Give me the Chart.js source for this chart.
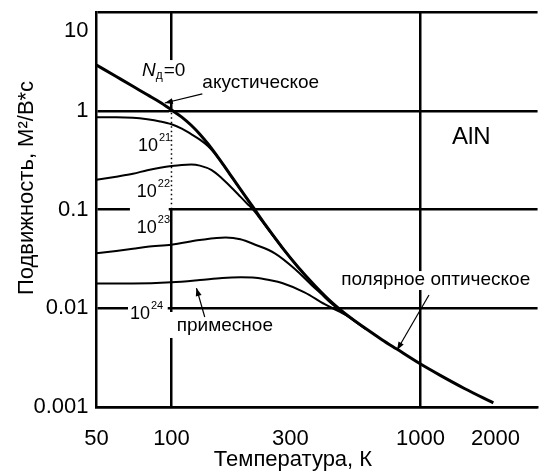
<!DOCTYPE html>
<html><head><meta charset="utf-8">
<script src="https://cdn.jsdelivr.net/npm/chart.js@4/dist/chart.umd.min.js"></script>
<style>html,body{margin:0;padding:0;background:#fff}#wrap{width:539px;height:474px;position:relative}</style>
</head><body><div id="wrap"><canvas id="c"></canvas></div>
<script>
// ---- data ----
const xTicks = [50, 100, 300, 1000, 2000];
const yTicks = [0.001, 0.01, 0.1, 1, 10];

// N_д = 0 (pure / acoustic + polar optical)
const tPure  = [50, 60, 70, 80, 90, 100, 110, 120, 130, 140, 157, 172, 189, 213, 238, 278, 322, 376, 440, 500, 600, 700, 800, 1000, 1200, 1500, 1960];
const muPure = [2.9, 2.22, 1.77, 1.45, 1.22, 1.02, 0.863, 0.713, 0.579, 0.463, 0.314, 0.226, 0.161, 0.105, 0.0702, 0.0414, 0.0262, 0.017, 0.01146, 0.00876, 0.00626, 0.00481, 0.00388, 0.00272, 0.00209, 0.00154, 0.00110];
// N_д = 10^21
const t21  = [50, 60, 70, 80, 90, 100, 110, 120, 130, 140, 150, 157, 172, 189, 213, 238, 278];
const mu21 = [0.86, 0.86, 0.85, 0.82, 0.78, 0.73, 0.66, 0.58, 0.51, 0.44, 0.365, 0.312, 0.225, 0.160, 0.104, 0.0700, 0.0413];
// N_д = 10^22
const t22  = [50, 60, 70, 80, 90, 100, 110, 120, 130, 145, 160, 172, 189, 201, 213, 230, 250, 278, 322];
const mu22 = [0.20, 0.215, 0.23, 0.25, 0.265, 0.276, 0.283, 0.285, 0.278, 0.25, 0.205, 0.172, 0.135, 0.115, 0.099, 0.077, 0.0585, 0.0412, 0.0261];
// N_д = 10^23
const t23  = [50, 60, 70, 80, 100, 130, 165, 189, 217, 260, 313, 365, 400, 440, 500, 600];
const mu23 = [0.036, 0.038, 0.040, 0.042, 0.044, 0.049, 0.052, 0.050, 0.044, 0.036, 0.025, 0.0172, 0.0139, 0.0111, 0.0086, 0.0062];
// N_д = 10^24
const t24  = [50, 70, 100, 130, 160, 190, 217, 250, 278, 342, 412, 470, 520, 600];
const mu24 = [0.0178, 0.0178, 0.0183, 0.0193, 0.0203, 0.0206, 0.0204, 0.0192, 0.018, 0.0145, 0.011, 0.0093, 0.0081, 0.0062];

const FONT = '"Liberation Sans", Arial, Helvetica, sans-serif';
const pts = (t, m) => t.map((v, i) => ({x: v, y: m[i]}));
const ds = (t, m, w) => ({data: pts(t, m), borderColor: '#000', borderWidth: w, pointRadius: 0,
  fill: false, tension: 0.4, cubicInterpolationMode: 'monotone'});

// annotation plugin (positions given in data coordinates, converted by the chart's scales)
const annot = {
  id: 'annot',
  beforeDatasetsDraw(chart) {
    const {ctx, scales: {x, y}} = chart;
    const P = (t, m) => [x.getPixelForValue(t), y.getPixelForValue(m)];
    const boxes = [[73.3, 3.26, 114, 1.285], [68.1, 0.1137, 97.5, 0.0491], [66.9, 0.01213, 96.6, 0.00677],
                   [96.6, 0.00916, 225, 0.0050], [463, 0.0238, 2820, 0.0153]];
    ctx.save();
    ctx.fillStyle = '#fff';
    boxes.forEach(b => { const a = P(b[0], b[1]), c = P(b[2], b[3]); ctx.fillRect(a[0], a[1], c[0] - a[0], c[1] - a[1]); });
    // dotted part of the T=100 line between 1 and 0.1
    const xa = x.getPixelForValue(100), y1 = y.getPixelForValue(1), y2 = y.getPixelForValue(0.1);
    ctx.fillRect(xa - 2.5, y1 + 1.5, 5, y2 - y1 - 3);
    ctx.strokeStyle = '#000'; ctx.lineWidth = 1.5; ctx.setLineDash([1.5, 3]);
    ctx.beginPath(); ctx.moveTo(xa, y1 + 2); ctx.lineTo(xa, y2 - 2); ctx.stroke();
    ctx.restore();
  },
  afterDraw(chart) {
    const {ctx, scales: {x, y}} = chart;
    const P = (t, m) => [x.getPixelForValue(t), y.getPixelForValue(m)];
    ctx.save();
    ctx.fillStyle = '#000'; ctx.strokeStyle = '#000';
    ctx.textBaseline = 'middle'; ctx.textAlign = 'left';
    const txt = (s, p, size, style) => { ctx.font = (style || '') + ' ' + size + 'px ' + FONT; ctx.fillText(s, p[0], p[1]); return ctx.measureText(s).width; };
    const pow = (t, m, e) => { const p = P(t, m); const w = txt('10', p, 18); txt(e, [p[0] + w + 1, p[1] - 8], 11); };
    // N_д=0
    let p = P(76.1, 2.53);
    let w = txt('N', p, 19, 'italic');
    let w2 = txt('д', [p[0] + w, p[1] + 5], 12);
    txt('=0', [p[0] + w + w2 + 1, p[1]], 19);
    txt('акустическое', P(133, 1.91), 19);
    txt('AlN', P(1337, 0.542), 24);
    txt('полярное оптическое', P(480, 0.0193), 19);
    txt('примесное', P(105, 0.0066), 19);
    pow(73.3, 0.44, '21'); pow(72.6, 0.150, '22'); pow(72.6, 0.065, '23'); pow(68.1, 0.00875, '24');
    // arrows
    const arrow = (a, b) => {
      const A = P(a[0], a[1]), B = P(b[0], b[1]);
      ctx.lineWidth = 1.2; ctx.beginPath(); ctx.moveTo(A[0], A[1]); ctx.lineTo(B[0], B[1]); ctx.stroke();
      const ang = Math.atan2(B[1] - A[1], B[0] - A[0]), L = 8, H = 3;
      ctx.beginPath(); ctx.moveTo(B[0], B[1]);
      ctx.lineTo(B[0] - L * Math.cos(ang) + H * Math.sin(ang), B[1] - L * Math.sin(ang) - H * Math.cos(ang));
      ctx.lineTo(B[0] - L * Math.cos(ang) - H * Math.sin(ang), B[1] - L * Math.sin(ang) + H * Math.cos(ang));
      ctx.closePath(); ctx.fill();
    };
    arrow([133, 1.48], [94, 1.198]);
    arrow([1081, 0.0136], [805, 0.00378]);
    arrow([136, 0.00815], [126, 0.0160]);
    // axis titles
    ctx.textAlign = 'center';
    ctx.font = '22px ' + FONT;
    ctx.fillText('Температура, К', 293, 460);
    ctx.translate(27, 188); ctx.rotate(-Math.PI / 2);
    ctx.fillText('Подвижность, М²/В*с', 0, 0);
    ctx.restore();
  }
};

new Chart(document.getElementById('c'), {
  type: 'line',
  data: { datasets: [ds(tPure, muPure, 3), ds(t21, mu21, 2), ds(t22, mu22, 2), ds(t23, mu23, 2), ds(t24, mu24, 2)] },
  options: {
    responsive: true, maintainAspectRatio: false, animation: false, devicePixelRatio: 1,
    layout: { padding: { top: 12, right: 0, bottom: 0, left: 0 } },
    plugins: { legend: { display: false }, tooltip: { enabled: false } },
    scales: {
      x: {
        type: 'logarithmic', min: 50, max: 2950,
        afterBuildTicks: s => { s.ticks = xTicks.map(v => ({value: v})); },
        afterFit: s => { s.height = 67; },
        ticks: { callback: v => String(v), font: { size: 22, family: FONT }, color: '#000', padding: 19, autoSkip: false, maxRotation: 0 },
        grid: { color: c => (c.tick && (c.tick.value === 100 || c.tick.value === 1000)) ? '#000' : 'rgba(0,0,0,0)', lineWidth: 2.5, drawTicks: false },
        border: { display: true, color: '#000', width: 2.5 }
      },
      y: {
        type: 'logarithmic', min: 0.001, max: 10,
        afterBuildTicks: s => { s.ticks = yTicks.map(v => ({value: v})); },
        afterFit: s => { s.width = 96.5; s.paddingTop = 0; s.paddingBottom = 0; },
        ticks: { callback: v => v === 10 ? ['', '10'] : String(v), font: { size: 22, family: FONT, lineHeight: 1.7 }, color: '#000', padding: 8 },
        grid: { color: '#000', lineWidth: 2.5, drawTicks: false },
        border: { display: true, color: '#000', width: 2.5 }
      }
    }
  },
  plugins: [annot]
});
</script>
</body></html>
